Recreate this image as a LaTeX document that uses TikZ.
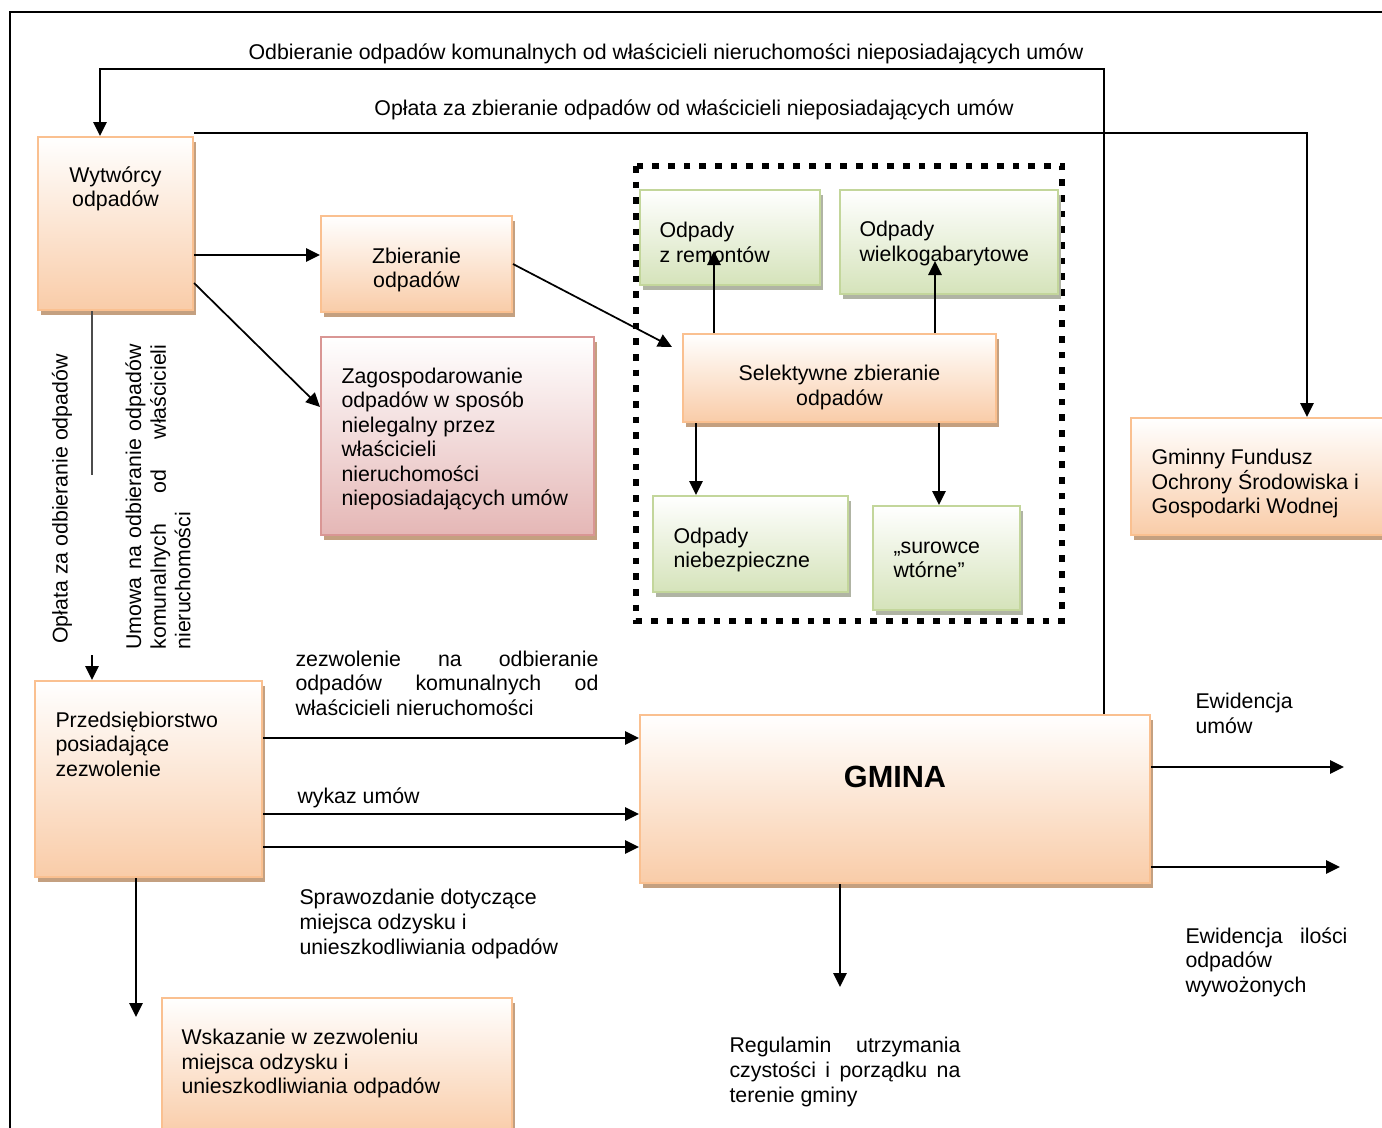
\documentclass[tikz,border=0pt]{standalone}
\usepackage{fontspec}
\setmainfont{Liberation Sans}
\usetikzlibrary{arrows.meta,shadows,calc,positioning}

\definecolor{peachLine}{RGB}{250,192,144}
\definecolor{peachFill}{RGB}{249,204,168}
\definecolor{greenLine}{RGB}{195,214,155}
\definecolor{greenFill}{RGB}{213,227,186}
\definecolor{pinkLine}{RGB}{217,150,148}
\definecolor{pinkFill}{RGB}{229,183,182}
\definecolor{shadowBrown}{RGB}{196,160,128}
\definecolor{shadowGrey}{RGB}{176,180,164}

\tikzset{every picture/.style={line width=0.75pt}}
\tikzset{
  txt/.style={font=\fontsize{16}{18.4}\selectfont, inner sep=0pt},
  peachbox/.style={draw=peachLine, line width=1.5pt, top color=white, bottom color=peachFill,
    drop shadow={shadow xshift=2.5pt, shadow yshift=-4pt, fill=shadowBrown, opacity=1}},
  greenbox/.style={draw=greenLine, line width=1.5pt, top color=white, bottom color=greenFill,
    drop shadow={shadow xshift=2.5pt, shadow yshift=-4pt, fill=shadowGrey, opacity=1}},
  pinkbox/.style={draw=pinkLine, line width=1.5pt, top color=white, bottom color=pinkFill,
    drop shadow={shadow xshift=2.5pt, shadow yshift=-4pt, fill=shadowBrown, opacity=1}},
  arr/.style={-{Triangle[length=10.5pt,width=10pt]}, line width=1.3pt},
  dotframe/.style={line width=5pt, dash pattern=on 5pt off 6.75pt},
}

\begin{document}
\begin{tikzpicture}[x=0.75pt,y=0.75pt,yscale=-1,xscale=1]
	\useasboundingbox (0,0) rectangle (1382,1128);

	%Straight Lines (frame)
	\draw [line width=1.5pt] (10,1140) -- (10,12) -- (1395,12) ;
	%Shape: Rectangle (dotted group)
	\draw [dotframe] (636,166) rectangle (1062,621) ;

	%Shape: Rectangle
	\node [peachbox, minimum width=116.25pt, minimum height=129.75pt] (wytw) at (115.5,223.5) {};
	\node [txt, align=center] (wytwTxt) at ($(wytw.north)+(0,53)$) {Wytwórcy\\odpadów};
	%Shape: Rectangle
	\node [peachbox, minimum width=143.25pt, minimum height=72pt] (zbier) at (416.5,264) {};
	\node [txt, align=center] (zbierTxt) at ($(zbier.center)+(0,6)$) {Zbieranie\\odpadów};
	%Shape: Rectangle
	\node [pinkbox, minimum width=204.75pt, minimum height=148.5pt] (zagosp) at (457.5,436) {};
	\node [txt, align=left, anchor=west] (zagospTxt) at ($(zagosp.west)+(21,3)$)
		{Zagospodarowanie\\odpadów w sposób\\nielegalny przez\\właścicieli\\nieruchomości\\nieposiadających umów};

	%Shape: Rectangle
	\node [greenbox, minimum width=135pt, minimum height=71.25pt] (remontow) at (730,237.5) {};
	\node [txt, align=left, anchor=west] (remontowTxt) at ($(remontow.west)+(20,5)$) {Odpady\\z remontów};
	%Shape: Rectangle
	\node [greenbox, minimum width=163.5pt, minimum height=78pt] (wielk) at (949,242) {};
	\node [txt, align=left, anchor=west] (wielkTxt) at ($(wielk.west)+(20,1.5)$) {Odpady\\wielkogabarytowe};
	%Shape: Rectangle
	\node [peachbox, minimum width=234.75pt, minimum height=66pt] (selek) at (839.5,378) {};
	\node [txt, align=center] (selekTxt) at ($(selek.center)+(0,9.5)$) {Selektywne zbieranie\\odpadów};
	%Shape: Rectangle
	\node [greenbox, minimum width=146.25pt, minimum height=72pt] (niebezp) at (750.5,544) {};
	\node [txt, align=left, anchor=west] (niebezpTxt) at ($(niebezp.west)+(21,6)$) {Odpady\\niebezpieczne};
	%Shape: Rectangle
	\node [greenbox, minimum width=110.25pt, minimum height=78pt] (surowce) at (946.5,558) {};
	\node [txt, align=left, anchor=west] (surowceTxt) at ($(surowce.west)+(21,2)$) {„surowce\\wtórne”};

	%Shape: Rectangle
	\node [peachbox, minimum width=209.25pt, minimum height=87.75pt] (fundusz) at (1270.5,476.5) {};
	\node [txt, align=left, anchor=west] (funduszTxt) at ($(fundusz.west)+(21,7)$)
		{Gminny Fundusz\\Ochrony Środowiska i\\Gospodarki Wodnej};

	%Shape: Rectangle
	\node [peachbox, minimum width=170.25pt, minimum height=147pt] (przeds) at (148.5,779) {};
	\node [txt, align=left, anchor=west] (przedsTxt) at ($(przeds.west)+(21,-35)$) {Przedsiębiorstwo\\posiadające\\zezwolenie};
	%Shape: Rectangle
	\node [peachbox, minimum width=382.5pt, minimum height=126pt] (gmina) at (895,799) {};
	\node [font=\fontsize{23}{27}\selectfont\bfseries, inner sep=0pt] (gminaTxt) at ($(gmina.center)+(0,-22)$) {GMINA};
	%Shape: Rectangle
	\node [peachbox, minimum width=262.5pt, minimum height=102.75pt] (wskaz) at (337,1066.5) {};
	\node [txt, align=left, anchor=west] (wskazTxt) at ($(wskaz.west)+(20,-3)$)
		{Wskazanie w zezwoleniu\\miejsca odzysku i\\unieszkodliwiania odpadów};

	% Text Node
	\node [txt] (odbLbl) at (666,54) {Odbieranie odpadów komunalnych od właścicieli nieruchomości nieposiadających umów};
	% Text Node
	\node [txt] (oplZbLbl) at (694,110) {Opłata za zbieranie odpadów od właścicieli nieposiadających umów};
	% Text Node
	\node [txt, rotate=90] (oplOdbLbl) at (62,499) {Opłata za odbieranie odpadów};
	% Text Node
	\node [txt, rotate=90, text width=228.75pt, align=justify] (umowaLbl) at (158,497)
		{Umowa na odbieranie odpadów\linebreak komunalnych od właścicieli\linebreak nieruchomości};
	% Text Node
	\node [txt, anchor=west, text width=227.25pt, align=justify] (zezwLbl) at (295,683)
		{zezwolenie na odbieranie\linebreak odpadów komunalnych od\linebreak właścicieli nieruchomości};
	% Text Node
	\node [txt, anchor=west] (wykazLbl) at (297,798) {wykaz umów};
	% Text Node
	\node [txt, anchor=west, align=left] (sprawLbl) at (299,924) {Sprawozdanie dotyczące\\miejsca odzysku i\\unieszkodliwiania odpadów};
	% Text Node
	\node [txt, anchor=west, align=left] (ewUmLbl) at (1195,713.5) {Ewidencja\\umów};
	% Text Node
	\node [txt, anchor=west, text width=121.5pt, align=justify] (ewIlLbl) at (1185,962)
		{Ewidencja ilości\linebreak odpadów\\wywożonych};
	% Text Node
	\node [txt, anchor=west, text width=173.25pt, align=justify] (regulLbl) at (729,1072)
		{Regulamin utrzymania\linebreak czystości i porządku na\linebreak terenie gminy};

	\coordinate (odbTurn) at (1104,69);
	\coordinate (feeTurn) at (1307,133);
	\coordinate (umGapTop) at (92,475);
	\coordinate (umGapBot) at (92,655);
	\coordinate (wskTip) at (136,1017);
	\coordinate (regTip) at (840,987);
	\coordinate (ewUmTip) at (1344,767);
	\coordinate (ewIlTip) at (1340,867);

	%Straight Lines
	\draw [arr] (gmina.north -| odbTurn) -- (odbTurn) -| (wytw.north -| 100,0) ;
	\draw [arr] (wytw.north east |- feeTurn) -- (feeTurn) -- (fundusz.north -| feeTurn) ;
	\draw [arr] ($(wytw.east)+(0,31.5)$) -- ($(zbier.west)+(0,-9)$) ;
	\draw [arr] ($(wytw.south east)+(0,-28)$) -- ($(zagosp.west)+(0,-29)$) ;
	\draw [arr] (zbier.east) -- ($(selek.north west)+(-10,14)$) ;
	\draw [arr] (selek.north -| 714,0) -- ($(remontow.south -| 714,0)+(0,-35)$) ;
	\draw [arr] (selek.north -| 935,0) -- ($(wielk.south -| 935,0)+(0,-34)$) ;
	\draw [arr] (selek.south -| 696,0) -- (niebezp.north -| 696,0) ;
	\draw [arr] (selek.south -| 939,0) -- (surowce.north -| 939,0) ;
	\draw [line width=1pt, black!70] (wytw.south -| umGapTop) -- (umGapTop) ;
	\draw [arr] (umGapBot) -- (przeds.north -| umGapBot) ;
	\draw [arr] (przeds.east |- 0,738) -- (gmina.west |- 0,738) ;
	\draw [arr] (przeds.east |- 0,814) -- (gmina.west |- 0,814) ;
	\draw [arr] (przeds.east |- 0,847) -- (gmina.west |- 0,847) ;
	\draw [arr] (przeds.south -| wskTip) -- (wskTip) ;
	\draw [arr] (gmina.south -| regTip) -- (regTip) ;
	\draw [arr] (gmina.east |- ewUmTip) -- (ewUmTip) ;
	\draw [arr] (gmina.east |- ewIlTip) -- (ewIlTip) ;

\end{tikzpicture}
\end{document}
